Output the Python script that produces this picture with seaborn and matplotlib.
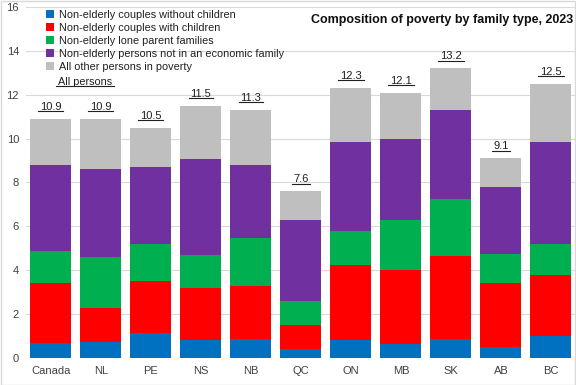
import numpy as np
import pandas as pd
import seaborn as sns
import matplotlib.pyplot as plt
from matplotlib.patches import Patch, Rectangle
from matplotlib.lines import Line2D

regions = ["Canada", "NL", "PE", "NS", "NB", "QC", "ON", "MB", "SK", "AB", "BC"]
couples_no_kids = [0.7, 0.75, 1.15, 0.8, 0.85, 0.4, 0.8, 0.65, 0.85, 0.5, 1.0]
couples_kids = [2.7, 1.55, 2.35, 2.4, 2.45, 1.1, 3.45, 3.35, 3.8, 2.9, 2.8]
lone_parent = [1.5, 2.3, 1.7, 1.5, 2.15, 1.1, 1.55, 2.3, 2.6, 1.35, 1.4]
unattached = [3.9, 4.0, 3.5, 4.35, 3.35, 3.7, 4.05, 3.7, 4.05, 3.05, 4.65]
all_other = [2.1, 2.3, 1.8, 2.45, 2.5, 1.3, 2.45, 2.1, 1.9, 1.3, 2.65]
all_persons = [10.9, 10.9, 10.5, 11.5, 11.3, 7.6, 12.3, 12.1, 13.2, 9.1, 12.5]

series_names = ["Non-elderly couples without children",
                "Non-elderly couples with children",
                "Non-elderly lone parent families",
                "Non-elderly persons not in an economic family",
                "All other persons in poverty"]
colors = ["#0070C0", "#FF0000", "#00B050", "#7030A0", "#BFBFBF"]

df = pd.DataFrame({"region": regions,
                   series_names[0]: couples_no_kids,
                   series_names[1]: couples_kids,
                   series_names[2]: lone_parent,
                   series_names[3]: unattached,
                   series_names[4]: all_other})
cum = df[series_names].cumsum(axis=1)

plt.rcParams["font.family"] = ["Liberation Sans", "DejaVu Sans"]
fig = plt.figure(figsize=(5.76, 3.85), dpi=100)
ax = fig.add_axes([0.045, 0.07, 0.955, 0.912])

# draw tallest cumulative first so smaller stacks sit on top
for name, col in reversed(list(zip(series_names, colors))):
    sns.barplot(x=df["region"], y=cum[name], color=col, saturation=1,
                width=0.82, ax=ax, zorder=2)

ax.set_ylim(0, 16)
ax.set_xlim(-0.5, 10.5)
ax.set_yticks(range(0, 17, 2))
ax.grid(axis="y", color="#D9D9D9", linewidth=0.8, zorder=0)
ax.set_axisbelow(True)
for s in ax.spines.values():
    s.set_visible(False)
ax.tick_params(length=0, labelsize=8, colors="#404040")
ax.tick_params(axis="y", pad=5)
ax.tick_params(axis="x", pad=6)
ax.set_xlabel("")
ax.set_ylabel("")

# total labels, underlined
labels = []
for i, tot in enumerate(all_persons):
    t = ax.annotate(f"{tot:.1f}", (i, tot), xytext=(0, 5), textcoords="offset points",
                    ha="center", va="bottom", fontsize=8, color="#202020")
    labels.append(t)

handles = [Patch(facecolor=c, edgecolor="none") for c in colors]
leg = ax.legend(handles, series_names, loc="upper left", bbox_to_anchor=(0.025, 1.01),
                frameon=False, fontsize=7.8, handlelength=0.75, handleheight=0.75,
                handletextpad=0.4, labelspacing=0.27, borderaxespad=0.2)
for t in leg.get_texts():
    t.set_color("#202020")

allp = fig.text(0.1007, 0.787, "All persons", fontsize=7.8, color="#202020", ha="left", va="center")
labels.append(allp)

fig.text(0.995, 0.948, "Composition of poverty by family type, 2023", fontsize=9,
         fontweight="bold", ha="right", va="center", color="#101010")

fig.canvas.draw()
r = fig.canvas.get_renderer()
inv = fig.transFigure.inverted()
for t in labels:
    bb = t.get_window_extent(r)
    (x0, y0), (x1, y1) = inv.transform([(bb.x0, bb.y0), (bb.x1, bb.y1)])
    yl = y0 + (y1 - y0) * 0.08
    fig.add_artist(Line2D([x0 - 0.003, x1 + 0.003], [yl, yl], color="#202020", linewidth=0.8))

fig.add_artist(Rectangle((0.001, 0.001), 0.997, 0.996, transform=fig.transFigure,
                         fill=False, edgecolor="#D9D9D9", linewidth=1))

fig.savefig("out.png", dpi=100)
